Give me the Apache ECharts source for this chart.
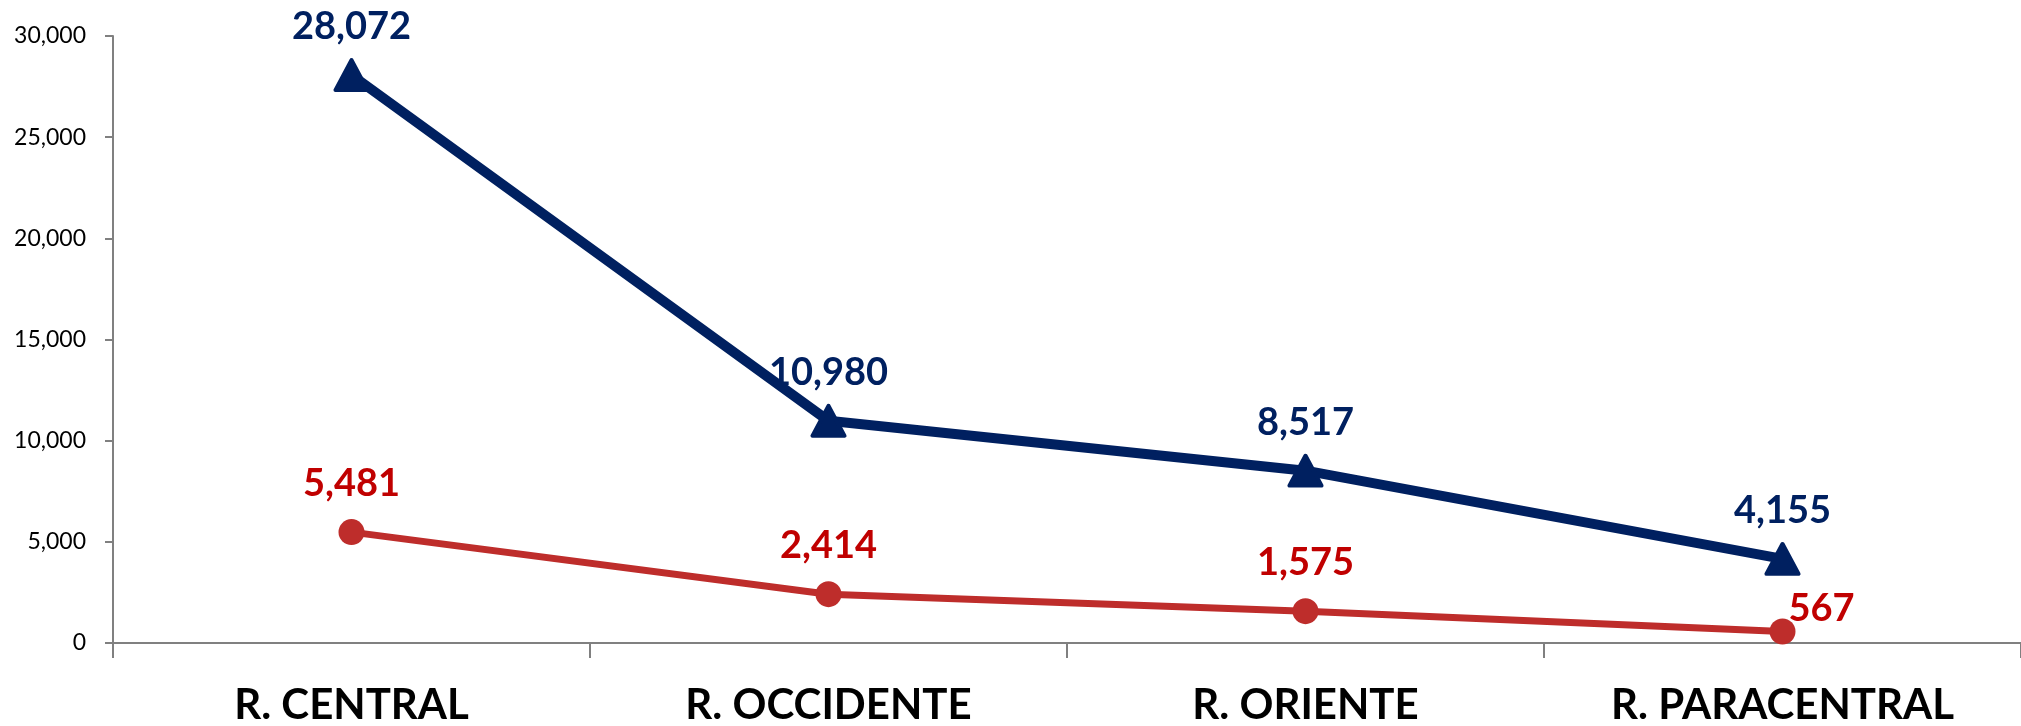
<!DOCTYPE html>
<html>
<head>
<meta charset="utf-8">
<script src="https://cdn.jsdelivr.net/npm/echarts@6/dist/echarts.min.js"></script>
<style>
html,body{margin:0;padding:0;background:#fff;}
#c{width:2021px;height:726px;}
</style>
</head>
<body>
<div id="c"></div>
<script>
const categories = ["R. CENTRAL", "R. OCCIDENTE", "R. ORIENTE", "R. PARACENTRAL"];
const blueValues = [28072, 10980, 8517, 4155];
const redValues = [5481, 2414, 1575, 567];
const yTicks = [0, 5000, 10000, 15000, 20000, 25000, 30000];

const fmt = v => v.toLocaleString('en-US');
const FONT = 'Lato';

const redData = redValues.map((v, i) => {
  if (i === redValues.length - 1) {
    return { value: v, label: { position: 'right', distance: 0, offset: [-7, -23] } };
  }
  return v;
});

const chart = echarts.init(document.getElementById('c'), null, { renderer: 'canvas' });
chart.setOption({
  backgroundColor: '#ffffff',
  animation: false,
  grid: { left: 113, top: 36, width: 1918, bottom: 80, containLabel: false },
  xAxis: {
    type: 'category',
    data: categories,
    boundaryGap: true,
    axisLine: { lineStyle: { color: '#808080', width: 2 } },
    axisTick: { show: true, length: 15, inside: false, alignWithLabel: false, lineStyle: { color: '#808080', width: 2 } },
    axisLabel: { color: '#000', fontFamily: FONT, fontWeight: 'bold', fontSize: 42, margin: 41 },
    splitLine: { show: false }
  },
  yAxis: {
    type: 'value',
    min: yTicks[0],
    max: yTicks[yTicks.length - 1],
    interval: yTicks[1] - yTicks[0],
    axisLine: { show: true, lineStyle: { color: '#808080', width: 2 } },
    axisTick: { show: true, length: 8, lineStyle: { color: '#808080', width: 2 } },
    axisLabel: { color: '#000', fontFamily: FONT, fontSize: 23, margin: 27, formatter: v => fmt(v) },
    splitLine: { show: false }
  },
  series: [
    {
      type: 'line',
      data: blueValues,
      symbol: 'triangle',
      symbolSize: [32, 30],
      lineStyle: { color: '#002060', width: 10 },
      itemStyle: { color: '#002060', borderColor: '#002060', borderWidth: 4, borderJoin: 'round' },
      label: {
        show: true, position: 'top', distance: 12,
        color: '#002060', fontFamily: FONT, fontWeight: 'bold', fontSize: 38,
        formatter: p => fmt(p.value)
      },
      z: 3
    },
    {
      type: 'line',
      data: redData,
      symbol: 'circle',
      symbolSize: 26,
      lineStyle: { color: '#BE2D2B', width: 7 },
      itemStyle: { color: '#BE2D2B' },
      label: {
        show: true, position: 'top', distance: 16,
        color: '#C00000', fontFamily: FONT, fontWeight: 'bold', fontSize: 38,
        formatter: p => fmt(p.value)
      },
      z: 2
    }
  ]
});
</script>
</body>
</html>
